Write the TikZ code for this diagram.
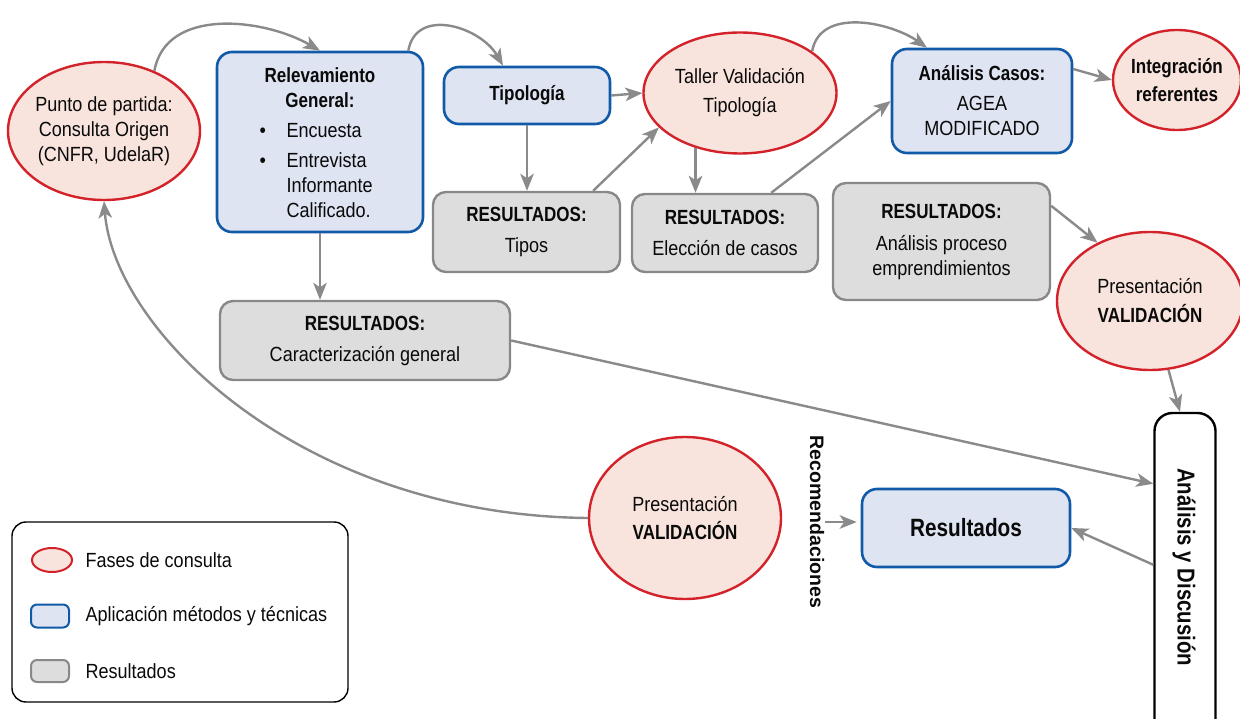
\documentclass[tikz,border=0pt]{standalone}
\usepackage{fontspec}
\setmainfont{Liberation Sans}[FakeStretch=0.88,BoldFeatures={FakeStretch=0.83}]
\newfontfamily\widesans{Liberation Sans}
\usetikzlibrary{shapes.geometric,arrows.meta,calc}

\definecolor{redline}{RGB}{211,34,42}
\definecolor{redfill}{RGB}{248,228,220}
\definecolor{blueline}{RGB}{16,90,168}
\definecolor{bluefill}{RGB}{223,228,242}
\definecolor{grayline}{RGB}{136,136,136}
\definecolor{grayfill}{RGB}{221,221,221}
\definecolor{arrowgray}{RGB}{138,138,138}
\definecolor{ink}{RGB}{10,10,10}

\newcommand\dgmfont{\fontsize{20.5}{25}\selectfont}

\begin{document}
\begin{tikzpicture}[x=1pt,y=-1pt,
  every node/.style={font=\dgmfont, text=ink},
  phase/.style={ellipse, draw=redline, fill=redfill, line width=2.4pt,
    inner xsep=-10pt, inner ysep=0pt, align=center},
  method/.style={rectangle, rounded corners=15pt, draw=blueline, fill=bluefill,
    line width=2.6pt, align=center},
  result/.style={rectangle, rounded corners=13pt, draw=grayline, fill=grayfill,
    line width=2.4pt, align=center},
  flow/.style={draw=arrowgray, line width=2.4pt,
    -{Stealth[length=17pt,width=13.5pt,inset=4.5pt]}},
  bold/.style={font=\dgmfont\bfseries}
]
\useasboundingbox (0,0) rectangle (1240,719);
\clip (0,0) rectangle (1240,719);

% ---- consultation phases ----
\node[phase, minimum width=192, minimum height=138] (punto) at (104,131)
  {Punto de partida:\\Consulta Origen\\(CNFR, UdelaR)};
\node[phase, minimum width=193, minimum height=121] (taller) at (740,93)
  {Taller Validación\\[4pt]Tipología};
\node[phase, minimum width=128, minimum height=100, bold] (integ) at (1177,80)
  {Integración\\[3pt]referentes};
\node[phase, minimum width=186, minimum height=138] (presR) at (1150,301)
  {Presentación\\[4pt]\textbf{VALIDACIÓN}};
\node[phase, minimum width=192, minimum height=162] (presB) at (685,518)
  {Presentación\\[3pt]\textbf{VALIDACIÓN}};

% ---- methods and techniques ----
\node[method, minimum width=206, minimum height=180] (relev) at (320,142) {};
\node[bold, align=center] at (320,88) {Relevamiento\\General:};
\node[anchor=base west] at (256,138) {\textbullet};
\node[anchor=base west] at (283,138) {Encuesta};
\node[anchor=base west] at (256,168) {\textbullet};
\node[anchor=base west] at (283,168) {Entrevista};
\node[anchor=base west] at (283,193) {Informante};
\node[anchor=base west] at (283,218) {Calificado.};

\node[method, minimum width=166, minimum height=57, bold] (tipo) at (527,95.5) {Tipología};
\node[method, minimum width=180, minimum height=104] (casos) at (982,101)
  {\textbf{Análisis Casos:}\\[5pt]AGEA\\MODIFICADO};
\node[method, minimum width=208, minimum height=78,
  font=\fontsize{25}{30}\selectfont\bfseries] (resul) at (966,528) {Resultados};

% ---- results ----
\node[result, minimum width=187, minimum height=80] (tipos) at (526.5,232)
  {\textbf{RESULTADOS:}\\[6pt]Tipos};
\node[result, minimum width=186, minimum height=78] (eleccion) at (725,233)
  {\textbf{RESULTADOS:}\\[6pt]Elección de casos};
\node[result, minimum width=217, minimum height=117] (proceso) at (941.5,241.5)
  {\textbf{RESULTADOS:}\\[7pt]Análisis proceso\\emprendimientos};
\node[result, minimum width=290, minimum height=79] (caract) at (365,340.5)
  {\textbf{RESULTADOS:}\\[6pt]Caracterización general};

% ---- analysis and discussion column ----
\node[rectangle, rounded corners=18pt, draw=black, fill=white, line width=2.4pt,
  minimum width=61, minimum height=334] (analisis) at (1185,580) {};
\node[rotate=-90, font=\fontsize{24.5}{28}\selectfont\bfseries] at (1184,567)
  {Análisis y Discusión};
\node[rotate=-90, inner sep=1pt, font=\widesans\bfseries\fontsize{19.5}{22}\selectfont]
  (recom) at (817,522) {Recomendaciones};

% ---- connectors ----
\draw[flow] (punto.50) to[out=80,in=150] (relev.north);
\draw[flow] ($(relev.north east)+(-16,0)$) to[out=80,in=120,looseness=1.2]
  ($(tipo.north)+(-24,0)$);
\draw[flow] (tipo.east) -- (taller.west);
\draw[flow] (tipo.south) -- (tipo.south |- tipos.north);
\draw[flow] ($(tipos.north east)+(-28,0)$) -- (taller.203);
\draw[flow] (taller.231.6) -- (taller.231.6 |- eleccion.north);
\draw[flow] ($(eleccion.north east)+(-48,0)$) -- (casos.west);
\draw[flow] (taller.30) to[out=80,in=145] ($(casos.north)+(-55,0)$);
\draw[flow] ($(casos.east)+(0,-32)$) -- (integ.west);
\draw[flow] (relev.south) -- (relev.south |- caract.north);
\draw[flow] ($(proceso.north east)+(0,24)$) -- (presR.132);
\draw[flow] (presR.-75) -- ($(analisis.north)+(-5,0)$);
\draw[flow] (caract.east) -- ($(analisis.north west)+(0,72)$);
\draw[flow] ($(analisis.north west)+(0,153)$) -- (resul.east);
\draw[flow] (recom.north) -- ($(recom.north -| resul.west)+(-4,0)$);
\draw[flow] (presB.west) .. controls ($(presB.west)+(-290,-3)$) and ($(punto.south)+(10,128)$) .. (punto.south);

% ---- legend ----
\node[draw=black, line width=1.4pt, rounded corners=14pt,
  minimum width=336, minimum height=180] (legend) at (180,612) {};
\node[ellipse, draw=redline, fill=redfill, line width=2pt,
  minimum width=40, minimum height=24] (keyphase) at (52,560) {};
\node[rectangle, rounded corners=6pt, draw=blueline, fill=bluefill, line width=2pt,
  minimum width=38, minimum height=23] (keymethod) at (50,616) {};
\node[rectangle, rounded corners=6pt, draw=grayline, fill=grayfill, line width=2pt,
  minimum width=38, minimum height=22] (keyresult) at (50,671) {};
\node[anchor=west] at (82,560) {Fases de consulta};
\node[anchor=west] at (82,616) {Aplicación métodos y técnicas};
\node[anchor=west] at (82,671) {Resultados};
\end{tikzpicture}
\end{document}
